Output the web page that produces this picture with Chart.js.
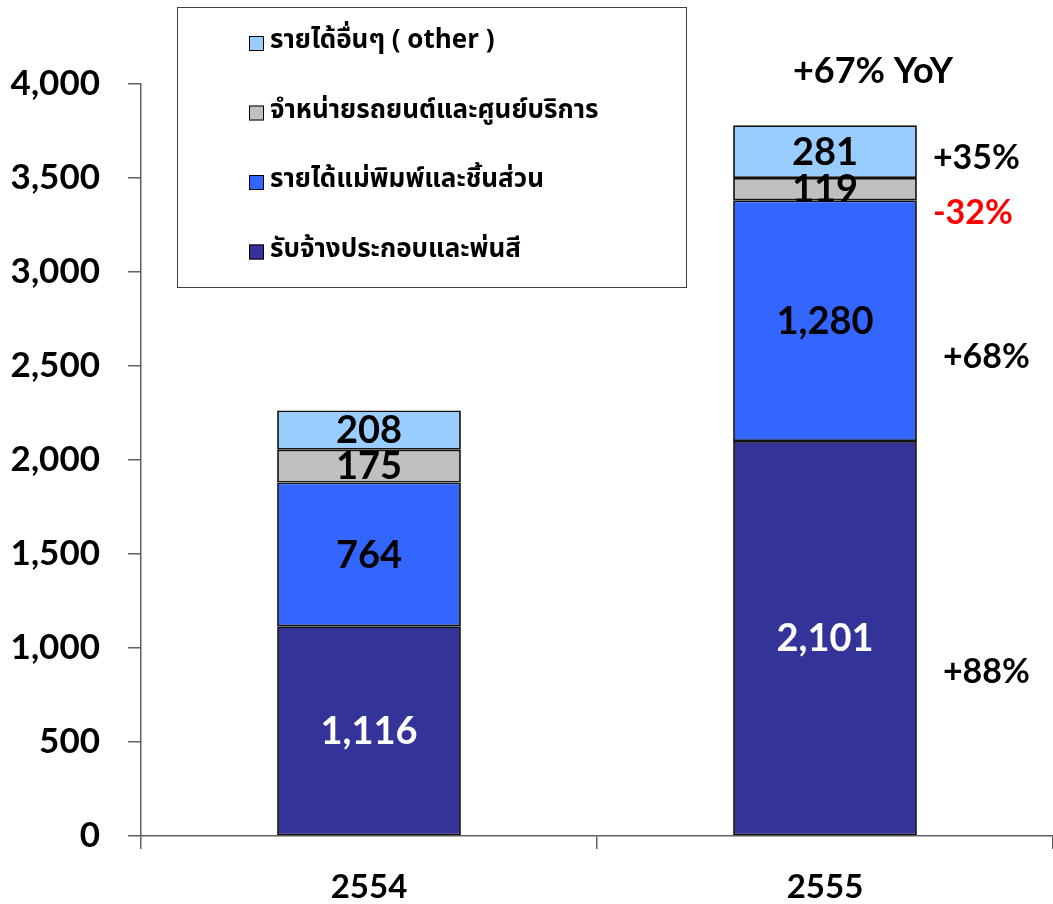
<!DOCTYPE html>
<html>
<head>
<meta charset="utf-8">
<script src="https://cdn.jsdelivr.net/npm/chart.js@4/dist/chart.umd.min.js"></script>
<style>
html,body{margin:0;padding:0;background:#fff;}
#wrap{width:1053px;height:904px;position:relative;}
</style>
</head>
<body>
<div id="wrap"><canvas id="c" width="1053" height="904"></canvas></div>
<script>
const categories = ['2554', '2555'];
const seriesLabels = ['รับจ้างประกอบและพ่นสี', 'รายได้แม่พิมพ์และชิ้นส่วน', 'จำหน่ายรถยนต์และศูนย์บริการ', 'รายได้อื่นๆ ( other )'];
const assemblyPaint = [1116, 2101];
const moldsParts = [764, 1280];
const carSales = [175, 119];
const otherIncome = [208, 281];
const growthLabels = ['+88%', '+68%', '-32%', '+35%'];
const totalGrowthLabel = '+67% YoY';
const yTicks = [0, 500, 1000, 1500, 2000, 2500, 3000, 3500, 4000];

const colors = ['#333399', '#3366FF', '#C0C0C0', '#99CCFF'];
const labelColors = ['#FFFFFF', '#000000', '#000000', '#000000'];
const growthColors = ['#000000', '#000000', '#FF0000', '#000000'];
const NUMFONT = 'Lato, "Open Sans", "DejaVu Sans", sans-serif';
const THAIFONT = 'Tahoma, "Noto Sans Thai", Loma, Garuda, "DejaVu Sans", sans-serif';

const seriesData = [assemblyPaint, moldsParts, carSales, otherIncome];
const datasets = seriesData.map((d, i) => ({
  label: seriesLabels[i],
  data: d,
  backgroundColor: colors[i],
  borderColor: '#111111',
  borderWidth: 1.8,
  borderSkipped: false,
  categoryPercentage: 1.0,
  barPercentage: 0.403
}));

const fmt = v => v.toLocaleString('en-US');

const overlay = {
  id: 'overlay',
  afterDatasetsDraw(chart) {
    const ctx = chart.ctx;
    ctx.save();
    // values inside segments
    chart.data.datasets.forEach((ds, di) => {
      const meta = chart.getDatasetMeta(di);
      meta.data.forEach((bar, i) => {
        const p = bar.getProps(['x', 'y', 'base'], true);
        ctx.font = 'bold 38px ' + NUMFONT;
        ctx.fillStyle = labelColors[di];
        ctx.textAlign = 'center';
        ctx.textBaseline = 'middle';
        ctx.fillText(fmt(ds.data[i]), p.x, (p.y + p.base) / 2 + 1);
      });
    });
    // growth labels beside the 2555 bar
    const last = categories.length - 1;
    const xOff = [26, 26, 16, 16];
    const yOff = [34, 36, 24, 6];
    chart.data.datasets.forEach((ds, di) => {
      const bar = chart.getDatasetMeta(di).data[last];
      const p = bar.getProps(['x', 'y', 'base', 'width'], true);
      ctx.font = 'bold 34px ' + NUMFONT;
      ctx.fillStyle = growthColors[di];
      ctx.textAlign = 'left';
      ctx.textBaseline = 'middle';
      ctx.fillText(growthLabels[di], p.x + p.width / 2 + xOff[di], (p.y + p.base) / 2 + yOff[di]);
    });
    const topBar = chart.getDatasetMeta(chart.data.datasets.length - 1).data[last];
    const tp = topBar.getProps(['x', 'y'], true);
    ctx.font = 'bold 36px ' + NUMFONT;
    ctx.fillStyle = '#000';
    ctx.textAlign = 'center';
    ctx.textBaseline = 'middle';
    ctx.fillText(totalGrowthLabel, tp.x + 48, tp.y - 54);

    // legend box
    ctx.strokeStyle = '#404040';
    ctx.lineWidth = 1;
    ctx.strokeRect(177.5, 7.5, 509, 280);
    const n = chart.data.datasets.length;
    for (let k = 0; k < n; k++) {
      const di = n - 1 - k;
      const ds = chart.data.datasets[di];
      const cy = 43 + k * 69.5;
      ctx.fillStyle = ds.backgroundColor;
      ctx.fillRect(249, cy - 7, 15, 15);
      ctx.strokeStyle = '#000';
      ctx.lineWidth = 1;
      ctx.strokeRect(249.5, cy - 6.5, 14, 14);
      ctx.font = 'bold 26px ' + THAIFONT;
      ctx.fillStyle = '#000';
      ctx.textAlign = 'left';
      ctx.textBaseline = 'middle';
      ctx.fillText(ds.label, 270, cy);
    }
    ctx.restore();
  }
};

new Chart(document.getElementById('c'), {
  type: 'bar',
  data: { labels: categories, datasets: datasets },
  options: {
    responsive: false,
    animation: false,
    layout: { padding: { top: 84, right: 0, left: 0, bottom: 0 } },
    plugins: { legend: { display: false }, tooltip: { enabled: false } },
    scales: {
      x: {
        stacked: true,
        grid: { display: true, offset: true, drawOnChartArea: false, drawTicks: true, tickLength: 13, color: '#606060', lineWidth: 1.5 },
        border: { display: true, color: '#606060', width: 1.5 },
        ticks: { color: '#000', font: { family: NUMFONT, size: 33, weight: 'bold' }, padding: 19 },
        afterFit(s) { s.height = 68; }
      },
      y: {
        stacked: true,
        min: 0,
        max: 4000,
        afterBuildTicks(s) { s.ticks = yTicks.map(v => ({ value: v })); },
        grid: { display: true, drawOnChartArea: false, drawTicks: true, tickLength: 13, color: '#606060', lineWidth: 1.5 },
        border: { display: true, color: '#606060', width: 1.5 },
        ticks: { color: '#000', font: { family: NUMFONT, size: 35, weight: 'bold' }, padding: 28, callback: v => fmt(v) },
        afterFit(s) { s.width = 141; }
      }
    }
  },
  plugins: [overlay]
});
</script>
</body>
</html>
